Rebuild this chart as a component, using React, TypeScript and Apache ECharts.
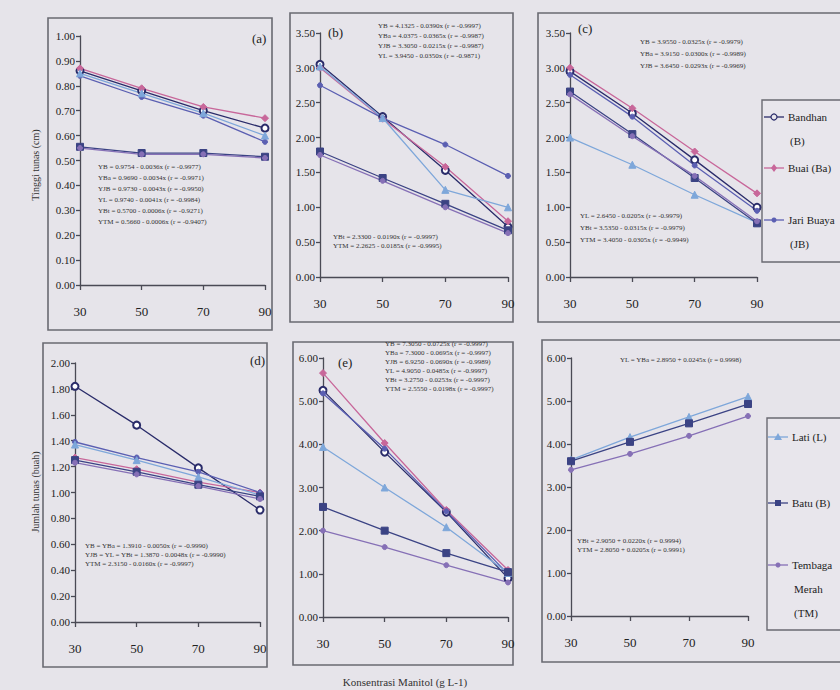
import React, { useEffect, useRef } from "react";
import * as echarts from "echarts";

// ---------- DATA ----------
const xValues = [30, 50, 70, 90];

// (a) Tinggi tunas (cm)
const aB = [0.86, 0.78, 0.70, 0.63];
const aBa = [0.87, 0.79, 0.715, 0.67];
const aJB = [0.84, 0.755, 0.68, 0.575];
const aL = [0.85, 0.77, 0.69, 0.60];
const aBt = [0.555, 0.53, 0.53, 0.515];
const aTM = [0.55, 0.525, 0.525, 0.51];

// (b)
const bB = [3.05, 2.30, 1.53, 0.72];
const bBa = [3.0, 2.27, 1.58, 0.80];
const bJB = [2.75, 2.28, 1.90, 1.45];
const bL = [3.02, 2.28, 1.25, 1.0];
const bBt = [1.80, 1.42, 1.05, 0.67];
const bTM = [1.75, 1.38, 1.0, 0.63];

// (c)
const cB = [2.95, 2.35, 1.68, 1.0];
const cBa = [3.0, 2.42, 1.80, 1.20];
const cJB = [2.90, 2.30, 1.60, 0.95];
const cL = [2.0, 1.61, 1.18, 0.78];
const cBt = [2.66, 2.05, 1.42, 0.77];
const cTM = [2.62, 2.02, 1.45, 0.80];

// (d) Jumlah tunas (buah)
const dB = [1.82, 1.52, 1.19, 0.865];
const dBa = [1.27, 1.18, 1.08, 1.0];
const dJB = [1.39, 1.27, 1.16, 1.0];
const dL = [1.37, 1.25, 1.12, 0.98];
const dBt = [1.25, 1.16, 1.06, 0.97];
const dTM = [1.23, 1.14, 1.05, 0.95];

// (e)
const eB = [5.25, 3.82, 2.43, 0.9];
const eBa = [5.65, 4.03, 2.48, 1.09];
const eJB = [5.18, 3.9, 2.45, 1.0];
const eL = [3.94, 3.0, 2.08, 1.02];
const eBt = [2.55, 2.0, 1.48, 1.04];
const eTM = [2.0, 1.62, 1.2, 0.8];

// (f)
const fL = [3.63, 4.16, 4.63, 5.1];
const fBt = [3.6, 4.05, 4.48, 4.93];
const fTM = [3.4, 3.77, 4.19, 4.65];

const panelLabels = ["(a)", "(b)", "(c)", "(d)", "(e)", ""];
const yMaxes = [1.0, 3.5, 3.5, 2.0, 6.0, 6.0];
const yIntervals = [0.1, 0.5, 0.5, 0.2, 1.0, 1.0];

const legend1 = ["Bandhan", "Buai (Ba)", "Jari Buaya"];
const legend1b = ["(B)", "", "(JB)"];
const legend2 = ["Lati (L)", "Batu (B)", "Tembaga"];

const eqA = [
  "YB = 0.9754 - 0.0036x (r = -0.9977)",
  "YBa = 0.9690 - 0.0034x (r = -0.9971)",
  "YJB = 0.9730 - 0.0043x (r = -0.9950)",
  "YL = 0.9740 - 0.0041x (r = -0.9984)",
  "YBt = 0.5700 - 0.0006x (r = -0.9271)",
  "YTM = 0.5660 - 0.0006x (r = -0.9407)",
];
const eqB1 = [
  "YB = 4.1325 - 0.0390x (r = -0.9997)",
  "YBa = 4.0375 - 0.0365x (r = -0.9987)",
  "YJB = 3.3050 - 0.0215x (r = -0.9987)",
  "YL = 3.9450 - 0.0350x (r = -0.9871)",
];
const eqB2 = [
  "YBt = 2.3300 - 0.0190x (r = -0.9997)",
  "YTM = 2.2625 - 0.0185x (r = -0.9995)",
];
const eqC1 = [
  "YB = 3.9550 - 0.0325x (r = -0.9979)",
  "YBa = 3.9150 - 0.0300x (r = -0.9989)",
  "YJB = 3.6450 - 0.0293x (r = -0.9969)",
];
const eqC2 = [
  "YL = 2.6450 - 0.0205x (r = -0.9979)",
  "YBt = 3.5350 - 0.0315x (r = -0.9979)",
  "YTM = 3.4050 - 0.0305x (r = -0.9949)",
];
const eqD = [
  "YB = YBa = 1.3910 - 0.0050x (r = -0.9990)",
  "YJB = YL = YBt = 1.3870 - 0.0048x (r = -0.9990)",
  "YTM = 2.3150 - 0.0160x (r = -0.9997)",
];
const eqE = [
  "YB = 7.3050 - 0.0725x (r = -0.9997)",
  "YBa = 7.3000 - 0.0695x (r = -0.9997)",
  "YJB = 6.9250 - 0.0690x (r = -0.9989)",
  "YL = 4.9050 - 0.0485x (r = -0.9997)",
  "YBt = 3.2750 - 0.0253x (r = -0.9997)",
  "YTM = 2.5550 - 0.0198x (r = -0.9997)",
];
const eqF1 = ["YL = YBa = 2.8950 + 0.0245x (r = 0.9998)"];
const eqF2 = [
  "YBt = 2.9050 + 0.0220x (r = 0.9994)",
  "YTM = 2.8050 + 0.0205x (r = 0.9991)",
];

// ---------- STYLES ----------
const FONT = "Liberation Serif";
const C = {
  B: "#2a2c6a",
  Ba: "#c8679a",
  JB: "#5b5fb2",
  L: "#7ea7da",
  Bt: "#3b4384",
  TM: "#8670b6",
};
const SYM: Record<string, string> = {
  B: "emptyCircle",
  Ba: "diamond",
  JB: "circle",
  L: "triangle",
  Bt: "rect",
  TM: "circle",
};

const grids = [
  { left: 80, top: 36, width: 185, height: 249 },
  { left: 320, top: 33, width: 188, height: 244 },
  { left: 570, top: 33, width: 187, height: 244 },
  { left: 75, top: 363, width: 185, height: 259 },
  { left: 323, top: 358, width: 185, height: 259 },
  { left: 571, top: 358, width: 177, height: 258 },
];

function mk(p: number, key: string, data: number[]) {
  return {
    type: "line",
    name: key + p,
    xAxisIndex: p,
    yAxisIndex: p,
    data: xValues.map((x, i) => [x, data[i]]),
    symbol: SYM[key],
    symbolSize: key === "JB" || key === "TM" ? 5 : 7,
    lineStyle: { color: C[key as keyof typeof C], width: 1.3 },
    itemStyle: { color: C[key as keyof typeof C], borderColor: C[key as keyof typeof C] },
    silent: true,
    z: 3,
  };
}

function eqText(lines: string[], x: number, y: number, gap = 11) {
  return lines.map((t, i) => ({
    type: "text",
    left: x,
    top: y + i * gap,
    silent: true,
    style: { text: t, fill: "#333", font: `7px "${FONT}"` },
  }));
}

function frame(x1: number, y1: number, x2: number, y2: number) {
  return {
    type: "rect",
    silent: true,
    shape: { x: x1, y: y1, width: x2 - x1, height: y2 - y1 },
    style: { fill: "none", stroke: "#6a6a72", lineWidth: 1.6 },
    z: 0,
  };
}

function legendEntry(key: string, x: number, y: number, lines: string[]) {
  const col = C[key as keyof typeof C];
  const els: any[] = [
    {
      type: "line",
      silent: true,
      shape: { x1: x, y1: y, x2: x + 20, y2: y },
      style: { stroke: col, lineWidth: 1.3 },
    },
  ];
  const sym = SYM[key];
  const cx = x + 10;
  if (sym === "emptyCircle")
    els.push({ type: "circle", silent: true, shape: { cx, cy: y, r: 3 }, style: { fill: "#e8e6ec", stroke: col, lineWidth: 1.2 } });
  else if (sym === "diamond")
    els.push({ type: "polygon", silent: true, shape: { points: [[cx, y - 4], [cx + 3, y], [cx, y + 4], [cx - 3, y]] }, style: { fill: col } });
  else if (sym === "triangle")
    els.push({ type: "polygon", silent: true, shape: { points: [[cx, y - 4], [cx + 4, y + 3], [cx - 4, y + 3]] }, style: { fill: col } });
  else if (sym === "rect")
    els.push({ type: "rect", silent: true, shape: { x: cx - 3, y: y - 3, width: 6, height: 6 }, style: { fill: col } });
  else els.push({ type: "circle", silent: true, shape: { cx, cy: y, r: 2.5 }, style: { fill: col } });
  lines.forEach((t, i) => {
    if (!t) return;
    els.push({
      type: "text",
      silent: true,
      x: x + 24 + (i > 0 ? 2 : 0),
      y: y + i * 24,
      style: { text: t, fill: "#222", font: `11px "${FONT}"`, verticalAlign: "middle" },
    });
  });
  return els;
}

export default function App() {
  const ref = useRef<HTMLDivElement>(null);
  useEffect(() => {
    if (!ref.current) return;
    const chart = echarts.init(ref.current, undefined, { renderer: "svg" });

    const xAxes = grids.map((_, i) => ({
      type: "value",
      gridIndex: i,
      min: 30,
      max: 90,
      interval: 20,
      axisLine: { show: true, lineStyle: { color: "#4a4a55", width: 1.3 } },
      axisTick: { show: true, length: 5, lineStyle: { color: "#4a4a55", width: 1.3 } },
      axisLabel: { margin: 20, color: "#222", fontFamily: FONT, fontSize: 13 },
      splitLine: { show: false },
    }));
    const yAxes = grids.map((_, i) => ({
      type: "value",
      gridIndex: i,
      min: 0,
      max: yMaxes[i],
      interval: yIntervals[i],
      axisLine: { show: true, lineStyle: { color: "#4a4a55", width: 1.3 } },
      axisTick: { show: true, length: 4, lineStyle: { color: "#4a4a55", width: 1.3 } },
      axisLabel: {
        margin: 5,
        color: "#222",
        fontFamily: FONT,
        fontSize: 11,
        formatter: (v: number) => v.toFixed(2),
      },
      splitLine: { show: false },
    }));

    const series = [
      mk(0, "B", aB), mk(0, "Ba", aBa), mk(0, "JB", aJB), mk(0, "L", aL), mk(0, "Bt", aBt), mk(0, "TM", aTM),
      mk(1, "B", bB), mk(1, "Ba", bBa), mk(1, "JB", bJB), mk(1, "L", bL), mk(1, "Bt", bBt), mk(1, "TM", bTM),
      mk(2, "B", cB), mk(2, "Ba", cBa), mk(2, "JB", cJB), mk(2, "L", cL), mk(2, "Bt", cBt), mk(2, "TM", cTM),
      mk(3, "B", dB), mk(3, "Ba", dBa), mk(3, "JB", dJB), mk(3, "L", dL), mk(3, "Bt", dBt), mk(3, "TM", dTM),
      mk(4, "B", eB), mk(4, "Ba", eBa), mk(4, "JB", eJB), mk(4, "L", eL), mk(4, "Bt", eBt), mk(4, "TM", eTM),
      mk(5, "L", fL), mk(5, "Bt", fBt), mk(5, "TM", fTM),
    ];

    const labelPos = [
      [252, 32], [328, 26], [578, 22], [250, 354], [338, 356], [0, 0],
    ];

    const graphic: any[] = [
      frame(48, 18, 272, 330),
      frame(290, 13, 513, 322),
      frame(538, 13, 845, 322),
      frame(43, 343, 267, 667),
      frame(293, 342, 513, 665),
      frame(542, 340, 845, 662),
      ...panelLabels
        .map((t, i) =>
          t
            ? {
                type: "text",
                silent: true,
                left: labelPos[i][0],
                top: labelPos[i][1],
                style: { text: t, fill: "#222", font: `13px "${FONT}"` },
              }
            : null
        )
        .filter(Boolean),
      ...eqText(eqA, 98, 163),
      ...eqText(eqB1, 378, 22, 10),
      ...eqText(eqB2, 333, 233, 9),
      ...eqText(eqC1, 640, 38, 12),
      ...eqText(eqC2, 580, 212, 12),
      ...eqText(eqD, 85, 542, 9),
      ...eqText(eqE, 385, 340, 9),
      ...eqText(eqF1, 620, 356),
      ...eqText(eqF2, 577, 537, 9),
      // legend boxes
      { type: "rect", silent: true, shape: { x: 762, y: 100, width: 90, height: 162 }, style: { fill: "#e8e6ec", stroke: "#6a6a72", lineWidth: 1.4 } },
      { type: "rect", silent: true, shape: { x: 767, y: 418, width: 90, height: 212 }, style: { fill: "#e8e6ec", stroke: "#6a6a72", lineWidth: 1.4 } },
      ...legendEntry("B", 764, 117, [legend1[0], legend1b[0]]),
      ...legendEntry("Ba", 764, 168, [legend1[1]]),
      ...legendEntry("JB", 764, 220, [legend1[2], legend1b[2]]),
      ...legendEntry("L", 768, 437, [legend2[0]]),
      ...legendEntry("Bt", 768, 503, [legend2[1]]),
      ...legendEntry("TM", 768, 565, [legend2[2], "Merah", "(TM)"]),
      // axis titles
      {
        type: "text",
        silent: true,
        x: 35,
        y: 165,
        rotation: Math.PI / 2,
        style: { text: "Tinggi tunas (cm)", fill: "#333", font: `10px "${FONT}"`, align: "center", verticalAlign: "middle" },
      },
      {
        type: "text",
        silent: true,
        x: 35,
        y: 492,
        rotation: Math.PI / 2,
        style: { text: "Jumlah tunas (buah)", fill: "#333", font: `10px "${FONT}"`, align: "center", verticalAlign: "middle" },
      },
      {
        type: "text",
        silent: true,
        x: 405,
        y: 682,
        style: { text: "Konsentrasi Manitol (g L-1)", fill: "#333", font: `11px "${FONT}"`, align: "center", verticalAlign: "middle" },
      },
    ];

    chart.setOption({
      animation: false,
      backgroundColor: "#e6e4ea",
      grid: grids,
      xAxis: xAxes,
      yAxis: yAxes,
      series,
      graphic,
    });
    return () => chart.dispose();
  }, []);

  return (
    <div
      ref={ref}
      style={{ position: "absolute", left: 0, top: 0, width: 840, height: 690 }}
    />
  );
}
